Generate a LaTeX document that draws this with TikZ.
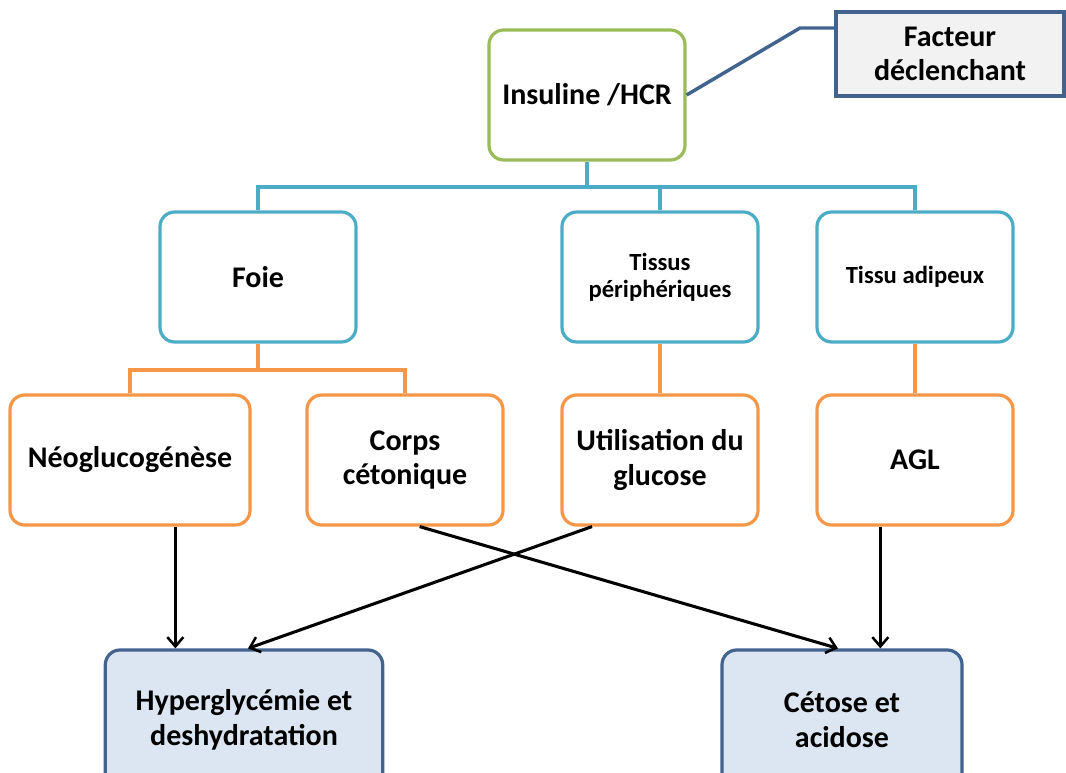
\documentclass[tikz,border=0pt]{standalone}
\usepackage{fontspec}
\setmainfont{Carlito}
\usetikzlibrary{arrows.meta,positioning}

\definecolor{vert}{HTML}{9BBB59}
\definecolor{bleuclair}{HTML}{4BACC6}
\definecolor{orangeclair}{HTML}{F79646}
\definecolor{marine}{HTML}{41638E}
\definecolor{gris}{HTML}{F2F2F2}
\definecolor{ciel}{HTML}{DCE6F2}

\begin{document}
\begin{tikzpicture}[x=0.75pt,y=-0.75pt,
    >={Straight Barb[length=7pt,width=12pt,line width=1.9pt]},
    boite/.style={draw,line width=2.4pt,rounded corners=11pt,align=center,
      font=\bfseries\fontsize{22.5}{26}\selectfont,fill=white,
      minimum width=147pt,minimum height=97.5pt,inner sep=2pt},
    petit/.style={font=\bfseries\fontsize{18.5}{20.5}\selectfont},
    racine/.style={boite,draw=vert},
    organe/.style={boite,draw=bleuclair},
    effet/.style={boite,draw=orangeclair},
    issue/.style={boite,draw=marine,fill=ciel,minimum height=105pt},
    lien/.style={line width=2.6pt},
    fleche/.style={->,line width=2.3pt,black}]
    \useasboundingbox (0,0) rectangle (1066,773);
    \clip (0,0) rectangle (1066,773);

    % connecteurs de l'arbre
    \coordinate (bus)  at (587,187);
    \coordinate (obus) at (258,370);
    \coordinate (coude) at (800,28);

    \node[racine] (ins)    at (587,95)  {Insuline /HCR};
    \node[draw=marine,fill=gris,line width=2.4pt,align=center,
          font=\bfseries\fontsize{22.5}{26}\selectfont,
          minimum width=171pt,minimum height=63pt] (fac) at (950,54)
          {Facteur\\d\'eclenchant};

    \node[organe] (foie)   at (258,277) {Foie};
    \node[organe,petit] (tissus) at (660,277) {Tissus\\p\'eriph\'eriques};
    \node[organe,petit] (adip)   at (915,277) {Tissu adipeux};

    \node[effet,minimum width=180pt] (neo) at (130,460) {N\'eoglucog\'en\`ese};
    \node[effet] (corps)  at (405,460) {Corps\\c\'etonique};
    \node[effet] (util)   at (660,460) {Utilisation du\\glucose};
    \node[effet] (agl)    at (915,460) {AGL};

    \node[issue,minimum width=208pt] (hyp) at (244,720) {Hyperglyc\'emie et\\deshydratation};
    \node[issue,minimum width=180pt] (cet) at (842,720) {C\'etose et\\acidose};

    \draw[lien,marine] (ins.east) -- (coude) -- (coude -| fac.west);

    \draw[lien,bleuclair] (ins.south) -- (ins.south |- bus);
    \draw[lien,bleuclair] (foie.north) |- (adip.north |- bus) -- (adip.north);
    \draw[lien,bleuclair] (tissus.north) -- (tissus.north |- bus);

    \draw[lien,orangeclair] (foie.south) -- (foie.south |- obus);
    \draw[lien,orangeclair] (neo.north) |- (corps.north |- obus) -- (corps.north);
    \draw[lien,orangeclair] (tissus.south) -- (util.north);
    \draw[lien,orangeclair] (adip.south) -- (agl.north);

    \draw[fleche] ([xshift=34pt]neo.south) -- ([xshift=34pt]neo.south |- hyp.north);
    \draw[fleche] ([xshift=-51pt]util.south) -- ([xshift=3pt]hyp.north);
    \draw[fleche] ([xshift=11pt]corps.south) -- ([xshift=-3pt]cet.north);
    \draw[fleche] ([xshift=-26pt]agl.south) -- ([xshift=-26pt]agl.south |- cet.north);
\end{tikzpicture}
\end{document}
